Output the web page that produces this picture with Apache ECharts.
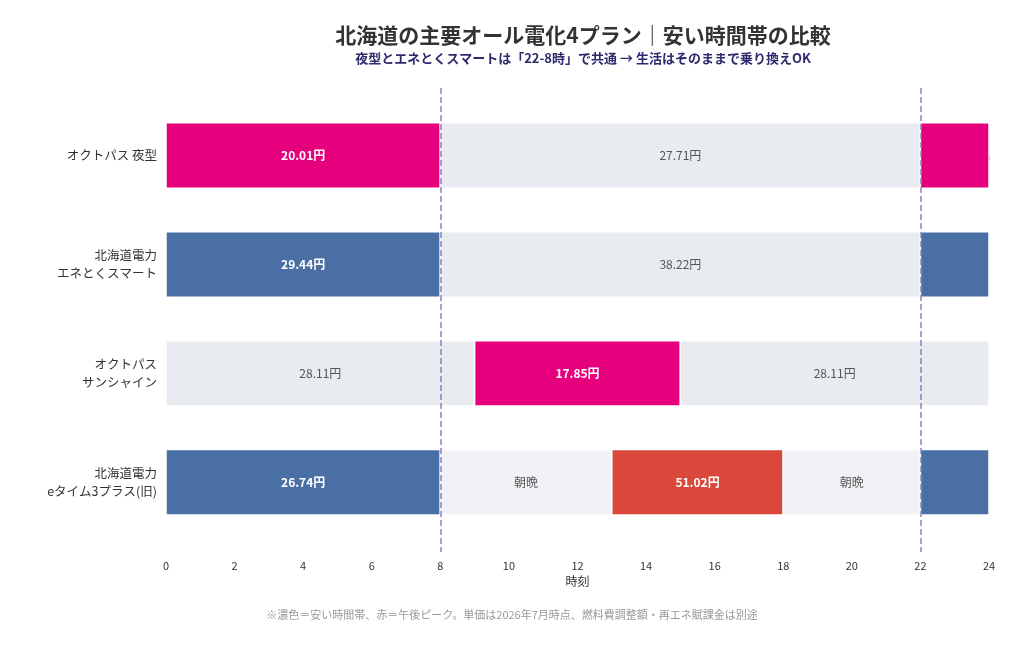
<!DOCTYPE html>
<html><head><meta charset="utf-8">
<script src="https://cdn.jsdelivr.net/npm/echarts@6/dist/echarts.min.js"></script>
<style>html,body{margin:0;background:#fff}#c{width:1024px;height:651px}</style>
</head><body><div id="c"></div>
<script>
const plans = ['オクトパス 夜型', '北海道電力\nエネとくスマート', 'オクトパス\nサンシャイン', '北海道電力\neタイム3プラス(旧)'];
// [row, start, end, kind, label]
const segments = [
  [0, 0, 8, 'magenta', '20.01円'], [0, 8, 22, 'gray', '27.71円'], [0, 22, 24, 'magenta', ''],
  [1, 0, 8, 'blue', '29.44円'], [1, 8, 22, 'gray', '38.22円'], [1, 22, 24, 'blue', ''],
  [2, 0, 9, 'gray', '28.11円'], [2, 9, 15, 'magenta', '17.85円'], [2, 15, 24, 'gray', '28.11円'],
  [3, 0, 8, 'blue', '26.74円'], [3, 8, 13, 'light', '朝晩'], [3, 13, 18, 'red', '51.02円'],
  [3, 18, 22, 'light', '朝晩'], [3, 22, 24, 'blue', '']
];
const xTicks = [0, 2, 4, 6, 8, 10, 12, 14, 16, 18, 20, 22, 24];
const boundaries = [8, 22];
const colors = { magenta: '#E6007E', blue: '#4A6FA5', gray: '#E8EBF0', light: '#F1F2F5', red: '#D9483B' };
const FONT = '"Noto Sans CJK JP", sans-serif';

const chart = echarts.init(document.getElementById('c'));
chart.setOption({
  textStyle: { fontFamily: FONT },
  title: {
    text: '北海道の主要オール電化4プラン｜安い時間帯の比較',
    subtext: '夜型とエネとくスマートは「22-8時」で共通 → 生活はそのままで乗り換えOK',
    left: 578, top: 20, textAlign: 'center', itemGap: 6,
    textStyle: { fontSize: 21, fontWeight: 'bold', color: '#333' },
    subtextStyle: { fontSize: 13, fontWeight: 'bold', color: '#2E2A6E' }
  },
  graphic: [{ type: 'text', left: 'center', top: 609,
    style: { text: '※濃色＝安い時間帯、赤＝午後ピーク。単価は2026年7月時点、燃料費調整額・再エネ賦課金は別途', fill: '#999', fontSize: 11, fontFamily: FONT } }],
  grid: { left: 166, right: 35, top: 88, bottom: 99 },
  xAxis: {
    type: 'value', min: 0, max: 24, interval: 2, name: '時刻', nameLocation: 'middle', nameGap: 22,
    nameTextStyle: { fontSize: 12, color: '#333' },
    axisLine: { show: true, lineStyle: { color: '#333' } },
    axisTick: { show: true, lineStyle: { color: '#333' } },
    axisLabel: { color: '#333', fontSize: 11, formatter: v => xTicks.includes(v) ? String(v) : '' },
    splitLine: { show: false }
  },
  yAxis: { type: 'value', inverse: true, min: -0.62, max: 3.64, show: false },
  series: [{
    type: 'custom',
    data: segments,
    encode: { x: [1, 2], y: 0 },
    renderItem: function (params, api) {
      const row = api.value(0), s = api.value(1), e = api.value(2);
      const seg = segments[params.dataIndex];
      const p0 = api.coord([s, row]), p1 = api.coord([e, row]);
      const h = api.size([0, 1])[1] * 0.6;
      const dark = seg[3] !== 'gray' && seg[3] !== 'light';
      const children = [{
        type: 'rect',
        shape: { x: p0[0], y: p0[1] - h / 2, width: p1[0] - p0[0], height: h },
        style: { fill: colors[seg[3]], stroke: '#fff', lineWidth: 1.5 }
      }];
      if (seg[4]) children.push({
        type: 'text', x: (p0[0] + p1[0]) / 2, y: p0[1],
        style: { text: seg[4], align: 'center', verticalAlign: 'middle', fontFamily: FONT,
          fontSize: 12, fontWeight: dark ? 'bold' : 'normal', fill: dark ? '#fff' : '#555' }
      });
      if (s === 0) children.push({
        type: 'text', x: p0[0] - 9, y: p0[1],
        style: { text: plans[row], align: 'right', verticalAlign: 'middle', fontFamily: FONT,
          fontSize: 12.5, lineHeight: 18, fill: '#333' }
      });
      return { type: 'group', children: children };
    },
    markLine: {
      silent: true, symbol: 'none', label: { show: false },
      lineStyle: { type: 'dashed', color: '#8A82B8', width: 1.5 },
      data: boundaries.map(b => ({ xAxis: b }))
    },
    z: 1
  }]
});
</script></body></html>
